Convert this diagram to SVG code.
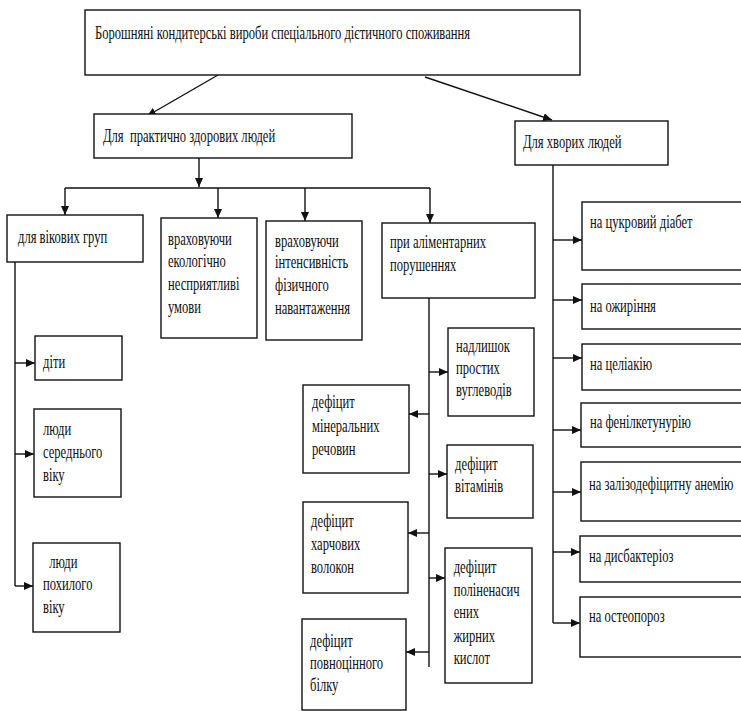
<svg xmlns="http://www.w3.org/2000/svg" width="741" height="711" viewBox="0 0 741 711">
<style>
  .box { fill: #ffffff; stroke: #111111; stroke-width: 1.4; }
  .t { font-family: "Liberation Serif", "Times New Roman", serif; font-size: 18px; fill: #111111; transform-box: fill-box; transform-origin: 0 0; transform: scaleX(0.7); }
  .pre { white-space: pre; }
  .c { fill: none; stroke: #111111; stroke-width: 1.4; }
  .a { marker-end: url(#ah); }
</style>
<defs>
  <marker id="ah" viewBox="0 0 9 8" refX="9" refY="4" markerWidth="9" markerHeight="8" markerUnits="userSpaceOnUse" orient="auto">
    <path d="M0,0 L9,4 L0,8 z" fill="#111111"/>
  </marker>
</defs>
<rect width="741" height="711" fill="#ffffff"/>

<g id="connectors">
  <path class="c a" d="M218,75 L147,116"/>
  <path class="c a" d="M425,77 L552,120"/>
  <path class="c a" d="M199,158 L199,187"/>
  <path class="c" d="M65,188 L430,188"/>
  <path class="c a" d="M65,188 L65,215"/>
  <path class="c a" d="M218,188 L218,218"/>
  <path class="c a" d="M305,188 L305,221"/>
  <path class="c a" d="M430,188 L430,223"/>
  <path class="c" d="M15,262 L15,586"/>
  <path class="c a" d="M15,363 L35,363"/>
  <path class="c a" d="M15,454 L34,454"/>
  <path class="c a" d="M15,586 L33,586"/>
  <path class="c" d="M429,298 L429,667"/>
  <path class="c a" d="M429,372 L448,372"/>
  <path class="c a" d="M429,414 L409,414"/>
  <path class="c a" d="M429,474 L447,474"/>
  <path class="c a" d="M429,533 L408,533"/>
  <path class="c a" d="M429,578 L445,578"/>
  <path class="c a" d="M429,652 L406,652"/>
  <path class="c" d="M553,165 L553,623"/>
  <path class="c a" d="M553,240 L582,240"/>
  <path class="c a" d="M553,300 L582,300"/>
  <path class="c a" d="M553,358 L582,358"/>
  <path class="c a" d="M553,430 L581,430"/>
  <path class="c a" d="M553,492 L581,492"/>
  <path class="c a" d="M553,552 L580,552"/>
  <path class="c a" d="M553,623 L580,623"/>
</g>

<g id="n-root">
  <rect class="box" x="85" y="10" width="495" height="65"/>
  <text class="t" x="95" y="39">Борошняні кондитерські вироби спеціального дієтичного споживання</text>
</g>
<g id="n-healthy">
  <rect class="box" x="94" y="114" width="258" height="44"/>
  <text class="t pre" x="103" y="142">Для  практично здорових людей</text>
</g>
<g id="n-sick">
  <rect class="box" x="515" y="121" width="153" height="44"/>
  <text class="t" x="523" y="148">Для хворих людей</text>
</g>

<g id="n-age">
  <rect class="box" x="7" y="215" width="136" height="47"/>
  <text class="t" x="18" y="243">для вікових груп</text>
</g>
<g id="n-eco">
  <rect class="box" x="161" y="218" width="96" height="120"/>
  <text class="t" x="168" y="245"><tspan x="168">враховуючи</tspan><tspan x="168" y="267">екологічно</tspan><tspan x="168" y="290">несприятливі</tspan><tspan x="168" y="313">умови</tspan></text>
</g>
<g id="n-phys">
  <rect class="box" x="266" y="221" width="96" height="119"/>
  <text class="t" x="275" y="247"><tspan x="275">враховуючи</tspan><tspan x="275" y="268">інтенсивність</tspan><tspan x="275" y="291">фізичного</tspan><tspan x="275" y="314">навантаження</tspan></text>
</g>
<g id="n-alim">
  <rect class="box" x="382" y="223" width="153" height="75"/>
  <text class="t" x="390" y="248"><tspan x="390">при аліментарних</tspan><tspan x="390" y="271">порушеннях</tspan></text>
</g>

<g id="n-kids">
  <rect class="box" x="35" y="336" width="87" height="44"/>
  <text class="t" x="43" y="368">діти</text>
</g>
<g id="n-middle">
  <rect class="box" x="34" y="409" width="87" height="88"/>
  <text class="t" x="43" y="435"><tspan x="43">люди</tspan><tspan x="43" y="458">середнього</tspan><tspan x="43" y="481">віку</tspan></text>
</g>
<g id="n-elderly">
  <rect class="box" x="33" y="543" width="87" height="89"/>
  <text class="t pre" x="43" y="568"><tspan x="43">  люди</tspan><tspan x="43" y="590">похилого</tspan><tspan x="43" y="613">віку</tspan></text>
</g>

<g id="n-carb">
  <rect class="box" x="448" y="328" width="86" height="88"/>
  <text class="t" x="456" y="352"><tspan x="456">надлишок</tspan><tspan x="456" y="374">простих</tspan><tspan x="456" y="396">вуглеводів</tspan></text>
</g>
<g id="n-mineral">
  <rect class="box" x="303" y="385" width="106" height="88"/>
  <text class="t" x="312" y="408"><tspan x="312">дефіцит</tspan><tspan x="312" y="432">мінеральних</tspan><tspan x="312" y="455">речовин</tspan></text>
</g>
<g id="n-vit">
  <rect class="box" x="447" y="445" width="86" height="73"/>
  <text class="t" x="455" y="470"><tspan x="455">дефіцит</tspan><tspan x="455" y="492">вітамінів</tspan></text>
</g>
<g id="n-fiber">
  <rect class="box" x="303" y="502" width="105" height="91"/>
  <text class="t" x="311" y="527"><tspan x="311">дефіцит</tspan><tspan x="311" y="550">харчових</tspan><tspan x="311" y="573">волокон</tspan></text>
</g>
<g id="n-pufa">
  <rect class="box" x="445" y="548" width="87" height="135"/>
  <text class="t" x="454" y="573"><tspan x="454">дефіцит</tspan><tspan x="454" y="596">поліненасич</tspan><tspan x="454" y="618">ених</tspan><tspan x="454" y="642">жирних</tspan><tspan x="454" y="664">кислот</tspan></text>
</g>
<g id="n-protein">
  <rect class="box" x="302" y="619" width="104" height="91"/>
  <text class="t" x="310" y="647"><tspan x="310">дефіцит</tspan><tspan x="310" y="669">повноцінного</tspan><tspan x="310" y="691">білку</tspan></text>
</g>

<g id="n-diab">
  <rect class="box" x="582" y="202" width="170" height="68"/>
  <text class="t" x="590" y="228">на цукровий діабет</text>
</g>
<g id="n-obes">
  <rect class="box" x="582" y="284" width="170" height="45"/>
  <text class="t" x="590" y="312">на ожиріння</text>
</g>
<g id="n-celiac">
  <rect class="box" x="582" y="344" width="170" height="46"/>
  <text class="t" x="590" y="370">на целіакію</text>
</g>
<g id="n-pku">
  <rect class="box" x="581" y="403" width="170" height="44"/>
  <text class="t" x="590" y="428">на фенілкетунурію</text>
</g>
<g id="n-anemia">
  <rect class="box" x="581" y="462" width="170" height="59"/>
  <text class="t" x="589" y="490">на залізодефіцитну анемію</text>
</g>
<g id="n-dysb">
  <rect class="box" x="580" y="536" width="170" height="46"/>
  <text class="t" x="589" y="562">на дисбактеріоз</text>
</g>
<g id="n-osteo">
  <rect class="box" x="580" y="597" width="170" height="60"/>
  <text class="t" x="589" y="622">на остеопороз</text>
</g>
</svg>
